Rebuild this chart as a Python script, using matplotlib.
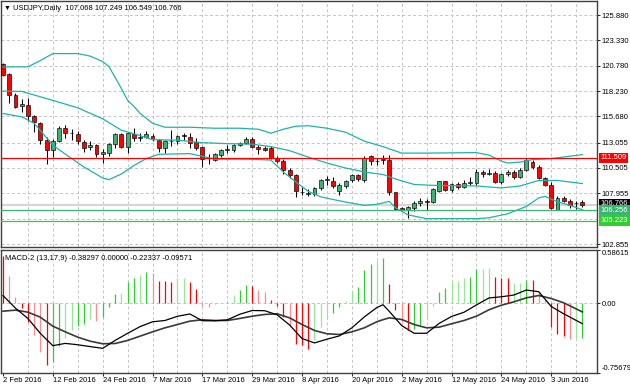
import matplotlib
matplotlib.use('Agg')
import matplotlib.pyplot as plt
from matplotlib.patches import Rectangle

plt.rcParams['font.family'] = ['Liberation Sans', 'DejaVu Sans']

# USDJPY daily candles, bar 0 = 2 Feb 2016 ... bar 93 = 10 Jun 2016
opens = [121.00, 119.95, 117.85, 116.75, 116.80, 115.70, 115.05, 113.30, 112.30, 113.20,
         114.55, 114.00, 113.95, 113.15, 112.60, 112.85, 111.95, 112.00, 112.90, 113.90,
         112.60, 113.90, 113.50, 113.65, 113.75, 113.35, 112.55, 113.20, 113.20, 113.80,
         113.65, 113.10, 112.60, 111.50, 111.30, 111.80, 112.35, 112.30, 112.80, 113.05,
         113.40, 112.60, 112.55, 112.50, 111.50, 111.20, 110.30, 109.75, 108.10, 107.90,
         107.85, 108.45, 109.30, 109.20, 108.20, 108.70, 109.25, 109.75, 109.30, 111.70,
         111.20, 111.45, 111.30, 108.05, 106.45, 106.30, 106.50, 106.95, 107.20, 107.10,
         108.20, 109.15, 108.30, 108.90, 108.60, 109.00, 109.00, 110.10, 109.85, 110.05,
         109.05, 109.90, 110.10, 109.60, 110.35, 111.10, 110.65, 109.45, 108.80, 106.30,
         107.45, 107.20, 106.95, 107.068]
highs = [121.05, 120.10, 118.00, 117.40, 117.50, 115.80, 115.15, 113.60, 113.45, 114.70,
         114.80, 114.40, 114.20, 113.30, 113.20, 112.95, 112.45, 113.05, 114.00, 114.00,
         114.10, 114.55, 114.05, 114.20, 113.90, 113.45, 113.30, 114.30, 113.85, 114.05,
         114.00, 113.55, 112.70, 111.95, 112.05, 112.45, 112.80, 112.90, 113.10, 113.65,
         113.65, 112.80, 112.75, 112.70, 111.70, 111.40, 110.50, 109.90, 108.60, 108.40,
         108.60, 109.40, 109.70, 109.60, 109.00, 109.25, 109.90, 109.85, 111.70, 111.85,
         111.55, 111.85, 111.80, 108.10, 106.60, 106.70, 107.20, 107.50, 107.35, 108.45,
         109.20, 109.20, 109.00, 109.10, 109.25, 109.55, 110.40, 110.35, 110.45, 110.25,
         110.05, 110.35, 110.30, 110.50, 111.50, 111.30, 110.80, 109.60, 109.05, 107.65,
         107.70, 107.40, 107.15, 107.249]
lows = [119.70, 117.00, 116.50, 116.15, 115.20, 114.10, 112.95, 110.95, 111.60, 113.10,
        113.50, 113.30, 112.90, 112.15, 112.30, 111.60, 111.00, 111.70, 112.50, 112.50,
        112.00, 113.20, 113.20, 113.50, 113.20, 112.10, 112.00, 112.70, 112.95, 113.30,
        112.55, 112.35, 110.65, 110.95, 111.20, 111.60, 112.00, 112.10, 112.70, 112.90,
        112.55, 111.95, 112.20, 111.40, 111.00, 109.85, 109.50, 107.60, 107.80, 107.65,
        107.70, 108.30, 108.80, 108.50, 107.75, 108.50, 109.05, 109.20, 109.10, 110.80,
        110.80, 110.90, 107.80, 106.25, 106.20, 105.50, 106.20, 106.70, 106.25, 106.95,
        108.05, 108.20, 108.10, 108.35, 108.50, 108.75, 108.75, 109.60, 109.75, 109.00,
        108.90, 109.70, 109.40, 109.45, 110.25, 110.45, 109.40, 108.70, 106.40, 106.25,
        107.05, 106.50, 106.35, 106.549]
closes = [119.85, 117.85, 116.65, 116.90, 115.70, 115.10, 113.30, 112.30, 113.20, 114.55,
          114.00, 114.05, 113.20, 112.55, 112.85, 111.95, 112.10, 112.95, 113.90, 112.60,
          114.00, 113.50, 113.60, 113.90, 113.40, 112.55, 113.20, 113.25, 113.75, 113.70,
          113.05, 112.55, 111.45, 111.55, 111.95, 112.35, 112.40, 112.80, 113.00, 113.40,
          112.65, 112.40, 112.30, 111.55, 111.20, 110.30, 109.75, 108.15, 108.05, 108.00,
          108.50, 109.30, 109.35, 108.65, 108.75, 109.15, 109.80, 109.35, 111.50, 111.20,
          111.25, 111.30, 108.05, 106.40, 106.30, 106.55, 107.00, 107.20, 107.10, 108.35,
          109.15, 108.30, 108.85, 108.60, 108.95, 109.05, 110.10, 109.85, 110.05, 109.05,
          109.95, 110.10, 109.60, 110.35, 111.30, 110.65, 109.45, 108.80, 106.45, 107.45,
          107.15, 106.80, 107.00, 106.766]

date_labels = ['2 Feb 2016', '12 Feb 2016', '24 Feb 2016', '7 Mar 2016', '17 Mar 2016',
               '29 Mar 2016', '8 Apr 2016', '20 Apr 2016', '2 May 2016', '12 May 2016',
               '24 May 2016', '3 Jun 2016']

# Bollinger bands, read at selected bars
upper_x = [0, 4, 6, 8, 12, 14, 16, 17, 18, 19, 20, 21, 22, 24, 26, 30, 34, 38, 41, 43,
           45, 47, 49, 52, 55, 58, 61, 64, 68, 76, 78, 80, 81, 83, 85, 88, 93]
upper = [120.67, 120.67, 121.30, 122.00, 122.00, 121.75, 121.20, 120.70, 119.60, 118.50,
         117.30, 116.70, 116.00, 115.00, 114.60, 114.60, 114.50, 114.50, 114.40, 114.00,
         114.40, 114.70, 114.75, 114.50, 114.10, 113.20, 112.65, 112.00, 112.00, 112.05,
         111.80, 111.20, 111.00, 111.10, 111.35, 111.45, 111.85]
mid_x = [0, 3, 8, 12, 16, 19, 21, 24, 28, 32, 36, 40, 43, 46, 49, 52, 55, 58, 61, 63,
         66, 69, 76, 80, 83, 86, 89, 93]
mid = [118.23, 118.20, 117.30, 116.55, 115.45, 114.30, 113.95, 113.35, 113.30, 113.05,
       112.95, 112.90, 112.65, 112.25, 111.60, 111.00, 110.50, 110.10, 109.85, 109.40,
       108.85, 108.76, 108.70, 108.50, 108.70, 109.25, 109.25, 108.94]
lower_x = [0, 3, 5, 8, 10, 13, 16, 17, 19, 21, 23, 25, 30, 34, 39, 43, 45, 47, 49, 51,
           55, 58, 60, 62, 63, 65, 68, 76, 78, 81, 84, 86, 87, 89, 91, 93]
lower = [115.98, 115.65, 115.00, 112.80, 111.90, 110.60, 109.50, 109.33, 109.90, 110.75,
         111.45, 111.88, 111.95, 111.40, 111.40, 111.30, 110.10, 109.10, 108.16, 107.60,
         107.08, 106.75, 106.85, 107.15, 106.50, 105.80, 105.41, 105.41, 105.50, 105.90,
         106.64, 107.50, 107.65, 107.10, 106.75, 106.31]

# MACD-2 (13,17,9)
hist = [0.510, 0.295, 0.066, -0.050, -0.207, -0.342, -0.530, -0.670, -0.640, -0.470,
        -0.378, -0.298, -0.250, -0.225, -0.178, -0.190, -0.150, -0.044, 0.102, 0.113,
        0.233, 0.277, 0.313, 0.342, 0.331, 0.240, 0.240, 0.230, 0.270, 0.277,
        0.233, 0.160, -0.033, -0.044, -0.010, 0.005, 0.020, 0.087, 0.139, 0.204,
        0.186, 0.139, 0.124, 0.040, -0.033, -0.153, -0.233, -0.443, -0.460, -0.500,
        -0.407, -0.262, -0.178, -0.105, -0.044, 0.020, 0.131, 0.175, 0.357, 0.433,
        0.466, 0.488, 0.212, -0.069, -0.200, -0.298, -0.287, -0.233, -0.178, -0.036,
        0.124, 0.168, 0.240, 0.240, 0.270, 0.288, 0.368, 0.375, 0.386, 0.291,
        0.277, 0.270, 0.222, 0.222, 0.258, 0.248, 0.124, 0.030, -0.262, -0.334,
        -0.360, -0.396, -0.378, -0.38297]
hist_codes = ("RrrRRrrRGG" "ggGGgrGGGg" "GGgGrRRRgg" "RRrrrGggGG" "RrrRRRrRRR"
              "gggGGggGGG" "gGRRrRGGgg" "GGgggGGggR" "RRggGRrrRR" "RrgG")
macd_x = [0, 2, 4, 6, 8, 10, 12, 14, 16, 18, 20, 22, 24, 26, 28, 30, 32, 34, 36, 38,
          40, 42, 44, 46, 48, 50, 52, 54, 56, 58, 60, 61, 62, 64, 66, 68, 70, 72, 74, 76,
          78, 80, 82, 84, 86, 88, 90, 92, 93]
macd_main = [0.083, -0.054, -0.167, -0.330, -0.464, -0.439, -0.454, -0.474, -0.493, -0.406,
             -0.329, -0.256, -0.203, -0.189, -0.143, -0.118, -0.192, -0.192, -0.182, -0.121,
             -0.080, -0.082, -0.127, -0.238, -0.386, -0.434, -0.393, -0.357, -0.269, -0.150,
             -0.048, -0.017, -0.089, -0.245, -0.329, -0.328, -0.221, -0.145, -0.099, -0.019,
             0.057, 0.070, 0.089, 0.144, 0.125, -0.036, -0.116, -0.188, -0.22337]
macd_signal = [-0.087, -0.076, -0.098, -0.153, -0.251, -0.313, -0.371, -0.415, -0.443, -0.440,
               -0.407, -0.360, -0.313, -0.269, -0.233, -0.196, -0.181, -0.189, -0.189, -0.167,
               -0.142, -0.123, -0.116, -0.160, -0.233, -0.298, -0.334, -0.342, -0.313, -0.269,
               -0.203, -0.180, -0.160, -0.178, -0.233, -0.269, -0.262, -0.225, -0.189, -0.142,
               -0.072, -0.022, 0.015, 0.058, 0.084, 0.051, 0.004, -0.062, -0.09571]

price_grid = [125.880, 123.330, 120.780, 118.230, 115.680, 113.055, 110.505, 107.955, 105.405, 102.855]
price_labels = [125.880, 123.330, 120.780, 118.230, 115.680, 113.055, 110.505, 107.955, 102.855]
red_level = 111.509
green_level = 106.256
lime_level = 105.223
last_price = 106.766

W, H = 630, 388
fig = plt.figure(figsize=(W / 100, H / 100), dpi=100)
fig.patch.set_facecolor('white')
L, R = 1, 596.5
ax1 = fig.add_axes([L / W, 1 - 247.5 / H, (R - L) / W, 246.5 / H])
ax2 = fig.add_axes([L / W, 1 - 372.5 / H, (R - L) / W, 123 / H])

xlo = -0.321
xhi = xlo + (R - L) / 6.23
grid_kw = dict(color='#c4c4c4', lw=0.7, dashes=(3, 2.5), zorder=0.5)

# ---- main pane
ax1.set_xlim(xlo, xhi)
ax1.set_ylim(125.88 - (247.5 - 15) / 9.95, 125.88 + (15 - 1) / 9.95)
for v in price_grid:
    ax1.axhline(v, **grid_kw)
for b in range(4, 94, 4):
    ax1.axvline(b, **grid_kw)
    ax2.axvline(b, **grid_kw)

ax1.axhline(last_price, color='#d6d6d6', lw=1.6, zorder=0.8)

bw = 0.62
for i in range(len(opens)):
    o, h, l, c = opens[i], highs[i], lows[i], closes[i]
    ax1.vlines(i, l, h, color='black', lw=0.75, zorder=2)
    if abs(c - o) < 0.03:
        ax1.hlines((o + c) / 2, i - bw / 2, i + bw / 2, color='black', lw=0.8, zorder=3)
    else:
        fc = '#3cb371' if c > o else '#ff0000'
        ax1.add_patch(Rectangle((i - bw / 2, min(o, c)), bw, abs(c - o),
                                facecolor=fc, edgecolor='black', lw=0.45, zorder=3))

band_c = '#20b2aa'
ax1.plot(upper_x, upper, color=band_c, lw=0.9, zorder=3.5)
ax1.plot(mid_x, mid, color=band_c, lw=0.9, zorder=3.5)
ax1.plot(lower_x, lower, color=band_c, lw=0.9, zorder=3.5)

ax1.axhline(red_level, color='#ff0000', lw=0.9, zorder=4)
ax1.axhline(green_level, color='#3cb371', lw=0.9, zorder=4)
ax1.axhline(lime_level, color='#32cd32', lw=0.9, zorder=4)

ax1.yaxis.tick_right()
ax1.set_yticks(price_labels)
ax1.set_yticklabels([f'{v:.3f}' for v in price_labels])
ax1.tick_params(axis='y', direction='out', length=2, width=0.6, pad=1.5,
                labelsize=5.5, colors='black')
ax1.set_xticks([])

# price tags on the right; the last-price tag sits partly under the green one
tr = ax1.get_yaxis_transform()
for val, fc, dy in [(last_price, 'black', 0.12), (green_level, '#3cb371', 0),
                    (red_level, '#ff0000', 0), (lime_level, '#32cd32', 0)]:
    ax1.text(1.0 + 4 / 595.5, val + dy, f'{val:.3f}', transform=tr, ha='left', va='center',
             fontsize=5.5, color='white', clip_on=False, zorder=10,
             bbox=dict(boxstyle='square,pad=0.22', fc=fc, ec='none'))

fig.text(4 / W, 1 - 8.5 / H, '\u25bc', fontsize=5, va='center', ha='left', color='black')
fig.text(13 / W, 1 - 8.5 / H, 'USDJPY,Daily  107.068 107.249 106.549 106.766',
         fontsize=5.5, va='center', ha='left', color='black')

# ---- MACD pane
ax2.set_xlim(xlo, xhi)
ax2.set_ylim(-0.75679, 0.58615)
ax2.axhline(0, color='#c4c4c4', lw=0.7, dashes=(3, 2.5), zorder=0.5)
cmap = {'G': '#32cd32', 'g': '#98e698', 'R': '#ff0000', 'r': '#ff8c8c'}
ax2.vlines(range(len(hist)), 0, hist, colors=[cmap[k] for k in hist_codes], lw=0.9, zorder=2)
ax2.plot(macd_x, macd_signal, color='#3a3a3a', lw=1.2, zorder=3)
ax2.plot(macd_x, macd_main, color='black', lw=0.9, zorder=3)

ax2.yaxis.tick_right()
ax2.set_yticks([-0.75679, 0.0, 0.58615])
ax2.set_yticklabels(['-0.75679', '0.00', '0.58615'])
ax2.tick_params(axis='y', direction='out', length=2, width=0.6, pad=1.5,
                labelsize=5.5, colors='black')
ylab = ax2.get_yticklabels()
ylab[0].set_va('bottom')
ylab[2].set_va('top')

ax2.set_xticks(range(0, 89, 8))
ax2.set_xticklabels(date_labels, ha='left')
ax2.tick_params(axis='x', direction='out', length=2, width=0.6, pad=1.5,
                labelsize=5.5, colors='black')

fig.text(5 / W, 1 - 258 / H, 'MACD-2 (13,17,9) -0.38297 0.00000 -0.22337 -0.09571',
         fontsize=5.5, va='center', ha='left', color='black')

for ax in (ax1, ax2):
    for s in ax.spines.values():
        s.set_color('#404040')
        s.set_linewidth(1.0)

fig.savefig('out.png', dpi=100, facecolor='white')
